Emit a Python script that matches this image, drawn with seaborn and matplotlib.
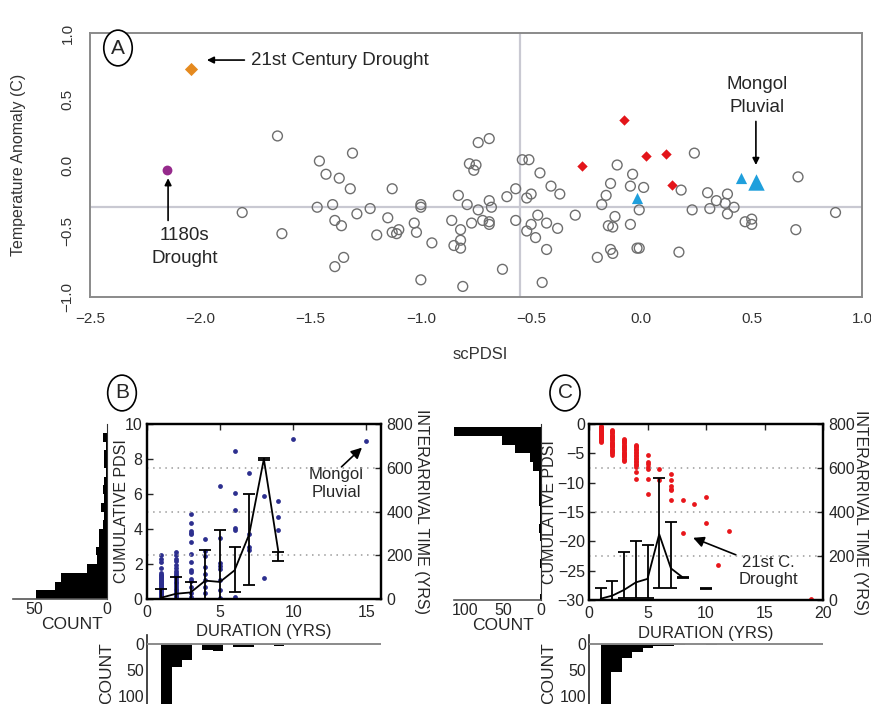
import numpy as np
import pandas as pd
import matplotlib
matplotlib.use("Agg")
import matplotlib.pyplot as plt
import seaborn as sns

# ---------------- Panel A: scPDSI vs temperature anomaly ----------------
grey_x = [-1.65, -1.31, -1.46, -1.43, -1.37, -1.32, -1.13, -1.81, -1.63, -1.47,
          -1.40, -1.29, -1.23, -1.39, -1.36, -1.15, -1.20, -1.13, -1.11, -1.10,
          -1.03, -1.02, -1.00, -1.00, -0.95, -0.86, -0.85, -0.82, -0.82, -0.82,
          -0.83, -0.79, -0.77, -0.74, -0.72, -0.69, -0.69, -0.69, -0.68, -0.74,
          -0.69, -0.78, -0.75, -0.76, -1.39, -1.35, -1.00, -0.81, -0.63, -0.61,
          -0.57, -0.57, -0.54, -0.51, -0.46, -0.52, -0.50, -0.52, -0.50, -0.48,
          -0.47, -0.43, -0.43, -0.41, -0.37, -0.38, -0.45, -0.30, -0.20, -0.18,
          -0.16, -0.14, -0.11, -0.04, -0.05, 0.01, -0.12, -0.15, -0.13, -0.05,
          -0.14, -0.13, -0.02, -0.01, -0.01, 0.17, 0.18, 0.23, 0.24, 0.30,
          0.31, 0.34, 0.39, 0.38, 0.42, 0.39, 0.47, 0.50, 0.50, 0.70,
          0.71, 0.88]
grey_y = [0.22, 0.09, 0.03, -0.07, -0.10, -0.18, -0.18, -0.36, -0.52, -0.32,
          -0.30, -0.37, -0.33, -0.42, -0.46, -0.40, -0.53, -0.51, -0.52, -0.49,
          -0.44, -0.51, -0.30, -0.32, -0.59, -0.42, -0.61, -0.63, -0.57, -0.49,
          -0.23, -0.30, -0.44, -0.34, -0.42, -0.43, -0.45, -0.27, -0.32, 0.17,
          0.20, 0.01, 0.00, -0.04, -0.77, -0.70, -0.87, -0.92, -0.79, -0.24,
          -0.18, -0.42, 0.04, 0.04, -0.06, -0.25, -0.22, -0.50, -0.45, -0.55,
          -0.38, -0.44, -0.64, -0.16, -0.22, -0.48, -0.89, -0.38, -0.70, -0.30,
          -0.23, -0.14, 0.00, -0.07, -0.16, -0.17, -0.39, -0.46, -0.47, -0.45,
          -0.64, -0.67, -0.63, -0.63, -0.34, -0.66, -0.19, -0.34, 0.09, -0.21,
          -0.33, -0.27, -0.22, -0.29, -0.32, -0.37, -0.43, -0.45, -0.41, -0.49,
          -0.09, -0.36]
drought21_x, drought21_y = [-2.04], [0.73]
drought1180_x, drought1180_y = [-2.15], [-0.04]
red_x = [-0.08, -0.27, 0.02, 0.11, 0.14]
red_y = [0.34, -0.01, 0.07, 0.08, -0.15]
blue_x = [-0.02, 0.45]
blue_y = [-0.25, -0.10]
mongol_x, mongol_y = [0.52], [-0.13]
mean_pdsi, mean_temp = -0.55, -0.32

# ---------------- Panel B: pluvials ----------------
b_durations = [1, 2, 3, 4, 5, 6, 7, 8, 9, 10, 15]
b_pdsi = [
    [0.05, 0.1, 0.15, 0.2, 0.25, 0.3, 0.35, 0.4, 0.45, 0.5, 0.55, 0.6, 0.65,
     0.7, 0.75, 0.8, 0.85, 0.9, 0.95, 1.0, 1.05, 1.1, 1.15, 1.2, 1.25, 1.3,
     1.35, 1.4, 1.5, 1.8, 2.1, 2.3, 2.5],
    [0.1, 0.2, 0.3, 0.4, 0.5, 0.6, 0.7, 0.8, 0.9, 1.0, 1.1, 1.2, 1.3, 1.4,
     1.5, 1.6, 1.8, 1.95, 2.15, 2.3, 2.5, 2.7],
    [0.1, 0.34, 0.68, 1.05, 1.14, 1.52, 1.67, 2.13, 2.59, 3.23, 3.73, 3.8,
     3.9, 4.37, 4.85],
    [0.34, 0.7, 1.1, 1.41, 1.84, 2.43, 2.76, 3.42],
    [0.05, 0.5, 1.1, 1.7, 1.87, 2.06, 3.46, 6.46],
    [0.1, 3.92, 4.03, 5.08, 6.03, 8.46],
    [2.8, 2.97, 3.69, 7.22],
    [1.18, 5.91],
    [3.94, 4.66, 5.59],
    [9.14],
    [9.03],
]
b_line_dur = [1, 2, 3, 4, 5, 6, 7, 8, 9]
b_interarrival = [6, 24, 30, 84, 78, 131, 296, 640, 212]
b_err_lo = [0, 0, 0, 0, 0, 30, 65, 636, 172]
b_err_hi = [46, 100, 80, 225, 314, 240, 480, 644, 213]
b_pdsi_counts = [49, 36, 32, 14, 7, 8, 6, 6, 3, 2, 4, 2, 3, 2, 1, 2, 2, 1, 3, 0]
b_pdsi_bin0, b_pdsi_binw = 0.0, 0.5
b_dur_counts = [140, 45, 31, 0, 12, 13, 0, 7, 6, 3, 2, 4, 1, 0, 0, 0, 0, 0, 0, 1]
b_dur_bin0, b_dur_binw = 1.0, 0.7

# ---------------- Panel C: droughts ----------------
c_durations = [1, 2, 3, 4, 5, 6, 7, 8, 9, 10, 11, 12, 19]
c_pdsi = [
    [-0.3, -0.45, -0.6, -0.75, -0.9, -1.05, -1.2, -1.35, -1.5, -1.65, -1.8,
     -1.95, -2.1, -2.25, -2.4, -2.55, -2.7, -2.85, -3.0],
    [-1.0, -1.2, -1.4, -1.6, -1.8, -2.0, -2.2, -2.4, -2.6, -2.8, -3.0, -3.2,
     -3.4, -3.6, -3.8, -4.0, -4.2, -4.4, -4.6, -4.8, -5.0, -5.3],
    [-2.5, -2.7, -2.9, -3.1, -3.3, -3.5, -3.7, -3.9, -4.1, -4.3, -4.5, -4.7,
     -4.9, -5.1, -5.3, -5.5, -5.7, -5.9, -6.1, -6.3],
    [-3.5, -3.75, -4.0, -4.25, -4.5, -4.75, -5.0, -5.25, -5.5, -5.75, -6.0,
     -6.25, -6.5, -6.75, -7.0, -7.3, -8.2, -9.3],
    [-5.3, -6.4, -6.9, -7.35, -7.6, -9.3, -11.9],
    [-7.7, -9.6],
    [-8.6, -9.6, -10.6, -11.0, -11.3, -13.0],
    [-13.0, -18.5],
    [-13.7],
    [-12.4, -16.9],
    [-24.1],
    [-18.2],
    [-29.9],
]
c_line_dur = [1, 2, 3, 4, 5, 6, 7, 8, 9, 10]
c_interarrival = [6, 20, 46, 80, 96, 299, 144, 103, np.nan, 52]
c_err_lo = [0, 0, 8, 11, 11, 55, 55, 101, np.nan, 49]
c_err_hi = [54, 88, 217, 268, 250, 553, 355, 105, np.nan, 55]
c_pdsi_counts = [1, 0, 0, 0, 1, 0, 0, 1, 2, 1, 1, 3, 2, 3, 3, 10, 14, 34, 51, 115]
c_pdsi_bin0, c_pdsi_binw = -30.5, 1.5
c_dur_counts = [200, 54, 27, 15, 9, 4, 5, 2, 1, 1, 2, 1, 0, 0, 0, 0, 0, 0, 0, 1]
c_dur_bin0, c_dur_binw = 1.0, 0.9

W, H = 871, 704


def fr(left, top, right, bottom):
    """pixel box -> figure fraction rect"""
    return [left / W, 1 - bottom / H, (right - left) / W, (bottom - top) / H]


def panel_label(fig, x, y, s):
    fig.text(x / W, 1 - y / H, s, fontsize=15, ha="center", va="center",
             bbox=dict(boxstyle="ellipse,pad=0.15", fc="white", ec="black", lw=1.2))


def arrow(ax, tail, tip, head=10, lw=1.2):
    ax.annotate("", xy=tip, xytext=tail, zorder=6,
                arrowprops=dict(arrowstyle="-|>", color="black", lw=lw,
                                mutation_scale=head, shrinkA=0, shrinkB=0))


def draw_panel_a(fig):
    ax = fig.add_axes(fr(90, 33, 862, 297))
    narrow = ["Liberation Sans Narrow", "Liberation Sans", "DejaVu Sans"]
    ax.axhline(mean_temp, color="#c9c9d2", lw=1.6, zorder=0)
    ax.axvline(mean_pdsi, color="#c9c9d2", lw=1.6, zorder=0)

    sns.scatterplot(x=grey_x, y=grey_y, ax=ax, s=50, marker="o", linewidth=1.0)
    ax.collections[-1].set_facecolor("none")
    ax.collections[-1].set_edgecolor("#6e6e6e")
    sns.scatterplot(x=drought21_x, y=drought21_y, ax=ax, s=45, marker="D",
                    color="#e58a1f", linewidth=0)
    sns.scatterplot(x=drought1180_x, y=drought1180_y, ax=ax, s=50, marker="o",
                    color="#962a8c", linewidth=0)
    sns.scatterplot(x=red_x, y=red_y, ax=ax, s=28, marker="D",
                    color="#e3151a", linewidth=0)
    sns.scatterplot(x=blue_x, y=blue_y, ax=ax, s=65, marker="^",
                    color="#1f9fdc", linewidth=0)
    sns.scatterplot(x=mongol_x, y=mongol_y, ax=ax, s=140, marker="^",
                    color="#1f9fdc", linewidth=0)

    ax.set_xlim(-2.5, 1.0)
    ax.set_ylim(-1.0, 1.0)
    ax.set_xticks([-2.5, -2.0, -1.5, -1.0, -0.5, 0.0, 0.5, 1.0])
    ax.set_yticks([-1.0, -0.5, 0.0, 0.5, 1.0])
    for sp in ax.spines.values():
        sp.set_color("#8a8a8a")
        sp.set_linewidth(1.4)
    ax.tick_params(direction="out", length=7, width=1.2, color="#8a8a8a",
                   labelsize=11, labelcolor="#333333", pad=4)
    for lab in ax.get_yticklabels():
        lab.set_rotation(90)
        lab.set_va("center")
    ax.set_xlabel("scPDSI", fontsize=12, color="#333333")
    ax.xaxis.set_label_coords(0.505, -0.19)
    ax.set_ylabel("Temperature Anomaly (C)", fontsize=11.5, color="#333333")
    ax.yaxis.set_label_coords(-0.083, 0.5)

    ax.text(-1.77, 0.795, "21st Century Drought", fontsize=13.5, family=narrow,
            va="center", ha="left")
    arrow(ax, (-1.80, 0.795), (-1.97, 0.795))
    ax.text(0.525, 0.52, "Mongol\nPluvial", fontsize=13.5, family=narrow,
            ha="center", va="center", linespacing=1.45)
    arrow(ax, (0.519, 0.33), (0.519, 0.0))
    ax.text(-2.07, -0.62, "1180s\nDrought", fontsize=13.5, family=narrow,
            ha="center", va="center", linespacing=1.45)
    arrow(ax, (-2.146, -0.42), (-2.146, -0.10))
    panel_label(fig, 118, 48, "A")


def style_main(ax, ax2):
    for a in (ax, ax2):
        for sp in a.spines.values():
            sp.set_color("black")
            sp.set_linewidth(1.6)
    ax.tick_params(direction="in", top=True, right=False, length=4, width=1,
                   labelsize=11.5, pad=3)
    ax.tick_params(axis="x", pad=4.5)
    ax2.tick_params(direction="in", length=4, width=1, labelsize=11.5, pad=4)
    ax2.set_ylim(0, 800)
    ax2.set_yticks([0, 200, 400, 600, 800])
    for v in (200, 400, 600):
        ax2.axhline(v, color="#9a9a9a", lw=1.1, ls=(0, (1, 3)), zorder=0)


def left_hist(fig, rect, bin0, binw, counts, xmax, xticks, ylim, label_x):
    ax = fig.add_axes(rect)
    ax.patch.set_visible(False)
    edges = [bin0 + i * binw for i in range(len(counts))]
    ax.barh(edges, counts, height=binw, align="edge", color="black", lw=0)
    ax.set_xlim(xmax, 0)
    ax.set_ylim(*ylim)
    ax.set_yticks([])
    ax.set_xticks(xticks)
    for side in ("top", "left"):
        ax.spines[side].set_visible(False)
    ax.spines["right"].set_color("#333333")
    ax.spines["bottom"].set_color("#555555")
    ax.spines["bottom"].set_linewidth(1.2)
    ax.tick_params(axis="x", length=0, labelsize=11.5, pad=2)
    ax.set_xlabel("COUNT", fontsize=12.5, labelpad=0)
    ax.xaxis.set_label_coords(label_x, -0.105)
    return ax


def bottom_hist(fig, rect, bin0, binw, counts, xlim):
    ax = fig.add_axes(rect)
    ax.patch.set_visible(False)
    edges = [bin0 + i * binw for i in range(len(counts))]
    ax.bar(edges, counts, width=binw, align="edge", color="black", lw=0)
    ax.axhline(0, color="#8a8a8a", lw=1.4, zorder=3)
    ax.set_xlim(*xlim)
    ax.set_ylim(115, -17)
    ax.set_yticks([0, 50, 100])
    ax.set_xticks([])
    for side in ("top", "right", "bottom"):
        ax.spines[side].set_visible(False)
    ax.spines["left"].set_linewidth(1.2)
    ax.tick_params(axis="y", direction="in", length=3, labelsize=11.5, pad=2)
    ax.set_ylabel("COUNT", fontsize=12.5)
    ax.yaxis.set_label_coords(-0.14, 0.45)
    return ax


def draw_panel_b(fig):
    ax = fig.add_axes(fr(146.7, 424, 381, 599))
    df = pd.DataFrame({
        "duration": [d for d, vals in zip(b_durations, b_pdsi) for _ in vals],
        "pdsi": [v for vals in b_pdsi for v in vals],
    })
    sns.scatterplot(data=df, x="duration", y="pdsi", ax=ax, s=12,
                    color="#2d2f8f", linewidth=0, zorder=3)
    ax.set_xlim(0, 16)
    ax.set_ylim(0, 10)
    ax.set_xticks([0, 5, 10, 15])
    ax.set_yticks([0, 2, 4, 6, 8, 10])
    ax.set_xlabel("DURATION (YRS)", fontsize=12)
    ax.xaxis.set_label_coords(0.5, -0.145)
    ax.set_ylabel("CUMULATIVE PDSI", fontsize=11.5)
    ax.yaxis.set_label_coords(-0.075, 0.5)

    ax2 = ax.twinx()
    style_main(ax, ax2)
    y = np.array(b_interarrival, dtype=float)
    ax2.plot(b_line_dur, y, color="black", lw=1.3, zorder=4)
    ax2.errorbar(b_line_dur, y, yerr=[y - np.array(b_err_lo), np.array(b_err_hi) - y],
                 fmt="none", ecolor="black", elinewidth=1.3, capsize=4, capthick=1.3,
                 zorder=4)
    ax2.set_ylabel("INTERARRIVAL TIME (YRS)", fontsize=11.5, rotation=-90,
                   va="center", ha="center")
    ax2.yaxis.set_label_coords(1.172, 0.5)

    ax.text(12.95, 6.6, "Mongol\nPluvial", fontsize=12, ha="center", va="center",
            zorder=6)
    arrow(ax, (13.3, 7.55), (14.7, 8.65), head=16)

    left_hist(fig, fr(13, 424, 107.3, 599), b_pdsi_bin0, b_pdsi_binw,
              b_pdsi_counts, 64.5, [50, 0], (0, 10), 0.63)
    bottom_hist(fig, fr(146.7, 634.8, 381, 704), b_dur_bin0, b_dur_binw,
                b_dur_counts, (0, 16))
    panel_label(fig, 122, 393, "B")


def draw_panel_c(fig):
    ax = fig.add_axes(fr(589, 424, 823, 600))
    df = pd.DataFrame({
        "duration": [d for d, vals in zip(c_durations, c_pdsi) for _ in vals],
        "pdsi": [v for vals in c_pdsi for v in vals],
    })
    sns.scatterplot(data=df, x="duration", y="pdsi", ax=ax, s=12,
                    color="#e8161b", linewidth=0, zorder=3)
    ax.set_xlim(0, 20)
    ax.set_ylim(-30, 0)
    ax.set_xticks([0, 5, 10, 15, 20])
    ax.set_yticks([-30, -25, -20, -15, -10, -5, 0])
    ax.set_yticklabels(["\u221230", "\u221225", "\u221220", "\u221215",
                        "\u221210", "\u22125", "0"])
    ax.set_xlabel("DURATION (YRS)", fontsize=12)
    ax.xaxis.set_label_coords(0.5, -0.145)
    ax.set_ylabel("CUMULATIVE PDSI", fontsize=11.5)
    ax.yaxis.set_label_coords(-0.135, 0.5)

    ax2 = ax.twinx()
    style_main(ax, ax2)
    y = np.array(c_interarrival, dtype=float)
    ax2.plot(c_line_dur, y, color="black", lw=1.3, zorder=4)
    ax2.errorbar(c_line_dur, y, yerr=[y - np.array(c_err_lo), np.array(c_err_hi) - y],
                 fmt="none", ecolor="black", elinewidth=1.3, capsize=4, capthick=1.3,
                 zorder=4)
    ax2.set_ylabel("INTERARRIVAL TIME (YRS)", fontsize=11.5, rotation=-90,
                   va="center", ha="center")
    ax2.yaxis.set_label_coords(1.16, 0.5)

    ax.text(15.3, -25.1, "21st C.\nDrought", fontsize=12, ha="center", va="center",
            zorder=6)
    arrow(ax, (12.55, -22.3), (8.9, -19.4), head=16)

    left_hist(fig, fr(454, 424, 541, 600), c_pdsi_bin0, c_pdsi_binw,
              c_pdsi_counts, 115, [100, 50, 0], (-30, 0), 0.56)
    bottom_hist(fig, fr(589, 634.8, 823, 704), c_dur_bin0, c_dur_binw,
                c_dur_counts, (0, 20))
    panel_label(fig, 565, 393, "C")


def main():
    sns.set_style("white")
    plt.rcParams["font.family"] = ["Liberation Sans", "DejaVu Sans"]
    plt.rcParams["axes.unicode_minus"] = True
    fig = plt.figure(figsize=(W / 100, H / 100), dpi=100)
    draw_panel_a(fig)
    draw_panel_b(fig)
    draw_panel_c(fig)
    fig.savefig("out.png", dpi=100)


if __name__ == "__main__":
    main()
